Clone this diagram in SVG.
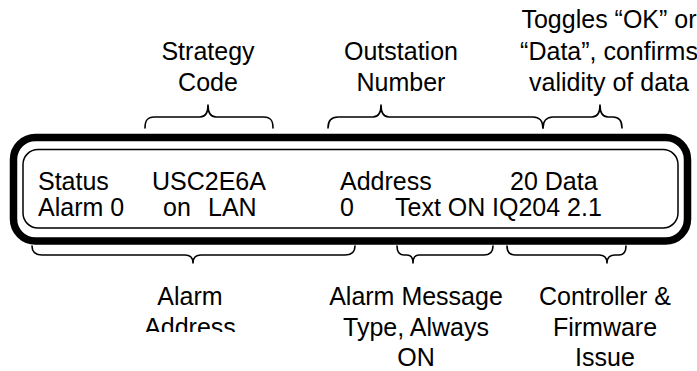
<svg xmlns="http://www.w3.org/2000/svg" width="697" height="371" viewBox="0 0 697 371">
<style>
  text { font-family: "Liberation Sans", Arial, sans-serif; font-size: 25px; fill: #000; }
  .lbl { text-anchor: middle; }
  .brace { fill: none; stroke: #000; stroke-width: 1.6; stroke-linejoin: round; stroke-linecap: round; }
  .outer { fill: none; stroke: #000; stroke-width: 7.5; }
  .inner { fill: none; stroke: #000; stroke-width: 1.5; }
</style>
<defs>
  <clipPath id="clipAddr"><rect x="0" y="0" width="697" height="332"/></clipPath>
</defs>
<rect width="697" height="371" fill="#fff"/>

<g id="display">
  <rect class="outer" x="13.5" y="137.5" width="674" height="103.5" rx="22"/>
  <rect class="inner" x="23" y="149.5" width="655" height="78.5" rx="15"/>
  <text x="38" y="190">Status</text>
  <text x="152" y="190">USC2E6A</text>
  <text x="340" y="190">Address</text>
  <text x="510" y="190">20 Data</text>
  <text x="38" y="216">Alarm 0</text>
  <text x="163" y="216">on</text>
  <text x="208" y="216">LAN</text>
  <text x="340" y="216">0</text>
  <text x="395" y="216">Text ON</text>
  <text x="492" y="216">IQ204 2.1</text>
</g>

<g id="label-strategy">
  <text class="lbl" x="208" y="60">Strategy</text>
  <text class="lbl" x="208" y="91">Code</text>
</g>
<g id="label-outstation">
  <text class="lbl" x="401" y="60">Outstation</text>
  <text class="lbl" x="401" y="91">Number</text>
</g>
<g id="label-toggles">
  <text class="lbl" x="609" y="28">Toggles “OK” or</text>
  <text class="lbl" x="609" y="60">“Data”, confirms</text>
  <text class="lbl" x="609" y="91">validity of data</text>
</g>
<g id="label-alarm-address" clip-path="url(#clipAddr)">
  <text class="lbl" x="190" y="305">Alarm</text>
  <text class="lbl" x="190" y="336">Address</text>
</g>
<g id="label-alarm-message">
  <text class="lbl" x="416" y="305">Alarm Message</text>
  <text class="lbl" x="416" y="336">Type, Always</text>
  <text class="lbl" x="416" y="366">ON</text>
</g>
<g id="label-controller">
  <text class="lbl" x="605" y="305">Controller &amp;</text>
  <text class="lbl" x="605" y="336">Firmware</text>
  <text class="lbl" x="605" y="366">Issue</text>
</g>

<g id="connectors">
  <path class="brace" d="M145,128 C145,121 147,117 154,117 L200,117 C205,117 208,114 208,105 C208,114 211,117 216,117 L264,117 C271,117 273,121 273,128"/>
  <path class="brace" d="M328,128 C328,121 331,117 338,117 L373,117 C378,117 381,114 381,105 C381,114 384,117 389,117 L533,117 C539,117 543,121 543,128"/>
  <path class="brace" d="M543,128 C543,121 547,117 553,117 L592,117 C597,117 600,114 600,105 C600,114 603,117 608,117 L613,117 C619,117 622,121 622,128"/>
  <path class="brace" d="M32,246 C32,252 35,255 42,255 L185,255 C190,255 193,257 193,263 C193,257 196,255 201,255 L345,255 C352,255 355,252 355,246"/>
  <path class="brace" d="M397,246 C397,252 399,255 404,255 L407,255 C411,255 413,257 413,263 C413,257 415,255 419,255 L484,255 C490,255 493,252 493,246"/>
  <path class="brace" d="M507,246 C507,252 509,255 515,255 L599,255 C604,255 607,257 607,263 C607,257 610,255 615,255 L619,255 C624,255 626,252 626,246"/>
</g>
</svg>
